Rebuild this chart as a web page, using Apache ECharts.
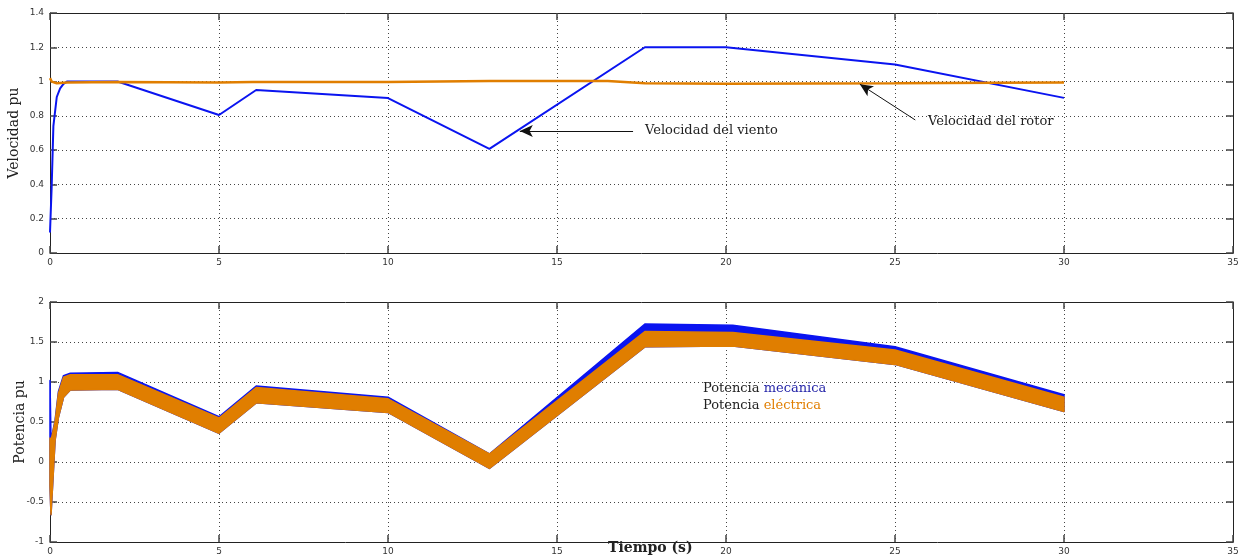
<!DOCTYPE html>
<html>
<head>
<meta charset="utf-8">
<script src="https://cdn.jsdelivr.net/npm/echarts@6/dist/echarts.min.js"></script>
<style>
  html, body { margin: 0; padding: 0; background: #fff; }
  #chart { width: 1249px; height: 560px; }
</style>
</head>
<body>
<div id="chart"></div>
<script>
// Wind speed (pu) over time (s)
const tViento = [0, 0.02, 0.05, 0.1, 0.2, 0.3, 0.4, 0.5, 2, 5, 6.1, 10, 13, 17.6, 20, 25, 30];
const velViento = [0.12, 0.13, 0.39, 0.74, 0.91, 0.96, 0.986, 1.0, 1.0, 0.805, 0.951, 0.904, 0.607, 1.2, 1.2, 1.1, 0.905];

// Rotor speed (pu)
const tRotor = [0, 0.05, 0.2, 0.5, 2, 5, 6, 10, 13, 16.5, 17.6, 20, 25, 28, 30];
const velRotor = [1.02, 1.0, 0.99, 0.995, 0.997, 0.995, 0.997, 0.997, 1.003, 1.003, 0.99, 0.988, 0.99, 0.993, 0.995];

// Power bands (pu): upper/lower envelopes of the ripple
const tPot = [0, 0.03, 0.15, 0.25, 0.4, 0.6, 2, 5, 6.1, 10, 13, 17.6, 20.2, 25, 30];
const potMecSup = [1.02, 0.27, 0.52, 0.88, 1.08, 1.11, 1.12, 0.565, 0.95, 0.81, 0.1, 1.725, 1.71, 1.44, 0.84];
const potElecSup = [0.3, 0.27, 0.5, 0.86, 1.06, 1.09, 1.09, 0.55, 0.93, 0.79, 0.1, 1.63, 1.62, 1.40, 0.81];
const potElecInf = [-0.3, -0.66, 0.27, 0.56, 0.81, 0.9, 0.91, 0.36, 0.74, 0.62, -0.08, 1.44, 1.45, 1.22, 0.63];

// Axis ticks
const xTicks = { min: 0, max: 35, interval: 5 };
const yVelTicks = { min: 0, max: 1.4, interval: 0.2 };
const yPotTicks = { min: -1, max: 2, interval: 0.5 };

const AZUL = '#0a14f0';
const NARANJA = '#e07e00';

const pairs = (xs, ys) => xs.map((x, i) => [x, ys[i]]);

const tickLabel = { fontFamily: 'DejaVu Sans', fontSize: 9, color: '#333' };
const serif = 'DejaVu Serif';

function xAxisPair(gridIndex, showLabels) {
  return [
    {
      type: 'value', gridIndex, position: 'bottom', ...xTicks,
      axisLine: { show: true, onZero: false, lineStyle: { color: '#222', width: 1 } },
      axisTick: { show: true, inside: true, length: 7, lineStyle: { color: '#444', width: 1.5 } },
      axisLabel: { show: showLabels, margin: 5, ...tickLabel },
      splitLine: { show: true, lineStyle: { type: [1, 3], color: '#444', width: 1 } }
    },
    {
      type: 'value', gridIndex, position: 'top', ...xTicks,
      axisLine: { show: true, onZero: false, lineStyle: { color: '#222', width: 1 } },
      axisTick: { show: true, inside: true, length: 7, lineStyle: { color: '#444', width: 1.5 } },
      axisLabel: { show: false },
      splitLine: { show: false }
    }
  ];
}

function yAxisPair(gridIndex, ticks, name, nameGap) {
  return [
    {
      type: 'value', gridIndex, position: 'left', ...ticks,
      name, nameLocation: 'middle', nameGap, nameMoveOverlap: false,
      nameTextStyle: { fontFamily: serif, fontSize: 14, color: '#222' },
      axisLine: { show: true, onZero: false, lineStyle: { color: '#222', width: 1 } },
      axisTick: { show: true, inside: true, length: 7, lineStyle: { color: '#444', width: 1.5 } },
      axisLabel: { margin: 6, ...tickLabel },
      splitLine: { show: true, lineStyle: { type: [1, 3], color: '#444', width: 1 } }
    },
    {
      type: 'value', gridIndex, position: 'right', ...ticks,
      axisLine: { show: true, onZero: false, lineStyle: { color: '#222', width: 1 } },
      axisTick: { show: true, inside: true, length: 7, lineStyle: { color: '#444', width: 1.5 } },
      axisLabel: { show: false },
      splitLine: { show: false }
    }
  ];
}

// Filled ripple envelope between a lower and an upper curve, placed through the axes' scales
function band(name, xIdx, yIdx, times, lower, upper, color) {
  return {
    name, type: 'custom', xAxisIndex: xIdx, yAxisIndex: yIdx, silent: true,
    data: [[times[0], lower[0]]],
    renderItem: (params, api) => {
      const top = times.map((t, i) => api.coord([t, upper[i]]));
      const bottom = times.map((t, i) => api.coord([t, lower[i]])).reverse();
      return {
        type: 'polygon',
        shape: { points: top.concat(bottom) },
        style: { fill: color, stroke: color, lineWidth: 1.5, lineJoin: 'round' }
      };
    }
  };
}

const arrowLine = { color: '#111', width: 1, type: 'solid' };

const option = {
  animation: false,
  backgroundColor: '#fff',
  grid: [
    { left: 50, top: 13, width: 1183, height: 240, containLabel: false, outerBoundsMode: 'none' },
    { left: 50, top: 302, width: 1183, height: 240, containLabel: false, outerBoundsMode: 'none' }
  ],
  xAxis: [...xAxisPair(0, true), ...xAxisPair(1, true)],
  yAxis: [...yAxisPair(0, yVelTicks, 'Velocidad pu', 29), ...yAxisPair(1, yPotTicks, 'Potencia pu', 23)],
  series: [
    {
      name: 'Velocidad del viento', type: 'line', xAxisIndex: 0, yAxisIndex: 0,
      symbol: 'none', lineStyle: { color: AZUL, width: 2 },
      data: pairs(tViento, velViento),
      markLine: {
        silent: true, symbol: ['none', 'arrow'], symbolSize: [9, 13],
        lineStyle: arrowLine,
        label: {
          show: true, position: 'start', distance: 12,
          formatter: 'Velocidad del viento',
          fontFamily: serif, fontSize: 13, color: '#222'
        },
        data: [[{ coord: [17.25, 0.712] }, { coord: [13.9, 0.712] }]]
      }
    },
    {
      name: 'Velocidad del rotor', type: 'line', xAxisIndex: 0, yAxisIndex: 0,
      symbol: 'none', lineStyle: { color: NARANJA, width: 2.5 },
      data: pairs(tRotor, velRotor),
      markLine: {
        silent: true, symbol: ['none', 'arrow'], symbolSize: [9, 13],
        lineStyle: arrowLine,
        label: { show: false },
        data: [[{ coord: [25.6, 0.776] }, { coord: [23.96, 0.985] }]]
      }
    },
    band('Potencia mecánica', 2, 2, tPot, potElecInf, potMecSup, AZUL),
    band('Potencia eléctrica', 2, 2, tPot, potElecInf, potElecSup, NARANJA)
  ],
  graphic: [
    {
      type: 'text', left: 928, top: 115,
      style: { text: 'Velocidad del rotor', font: '13px "DejaVu Serif"', fill: '#222' }
    },
    {
      type: 'text', left: 703, top: 380,
      style: {
        text: '{n|Potencia }{m|mecánica}\n{n|Potencia }{e|eléctrica}',
        font: '13px "DejaVu Serif"',
        lineHeight: 17,
        rich: {
          n: { fill: '#222', fontFamily: serif, fontSize: 13 },
          m: { fill: '#2424a8', fontFamily: serif, fontSize: 13 },
          e: { fill: '#e07e00', fontFamily: serif, fontSize: 13 }
        }
      }
    },
    {
      type: 'text', left: 608, top: 541,
      style: { text: 'Tiempo (s)', font: 'bold 14px "DejaVu Serif"', fill: '#222' }
    }
  ]
};

const chart = echarts.init(document.getElementById('chart'), null, { renderer: 'canvas' });
chart.setOption(option);
</script>
</body>
</html>
